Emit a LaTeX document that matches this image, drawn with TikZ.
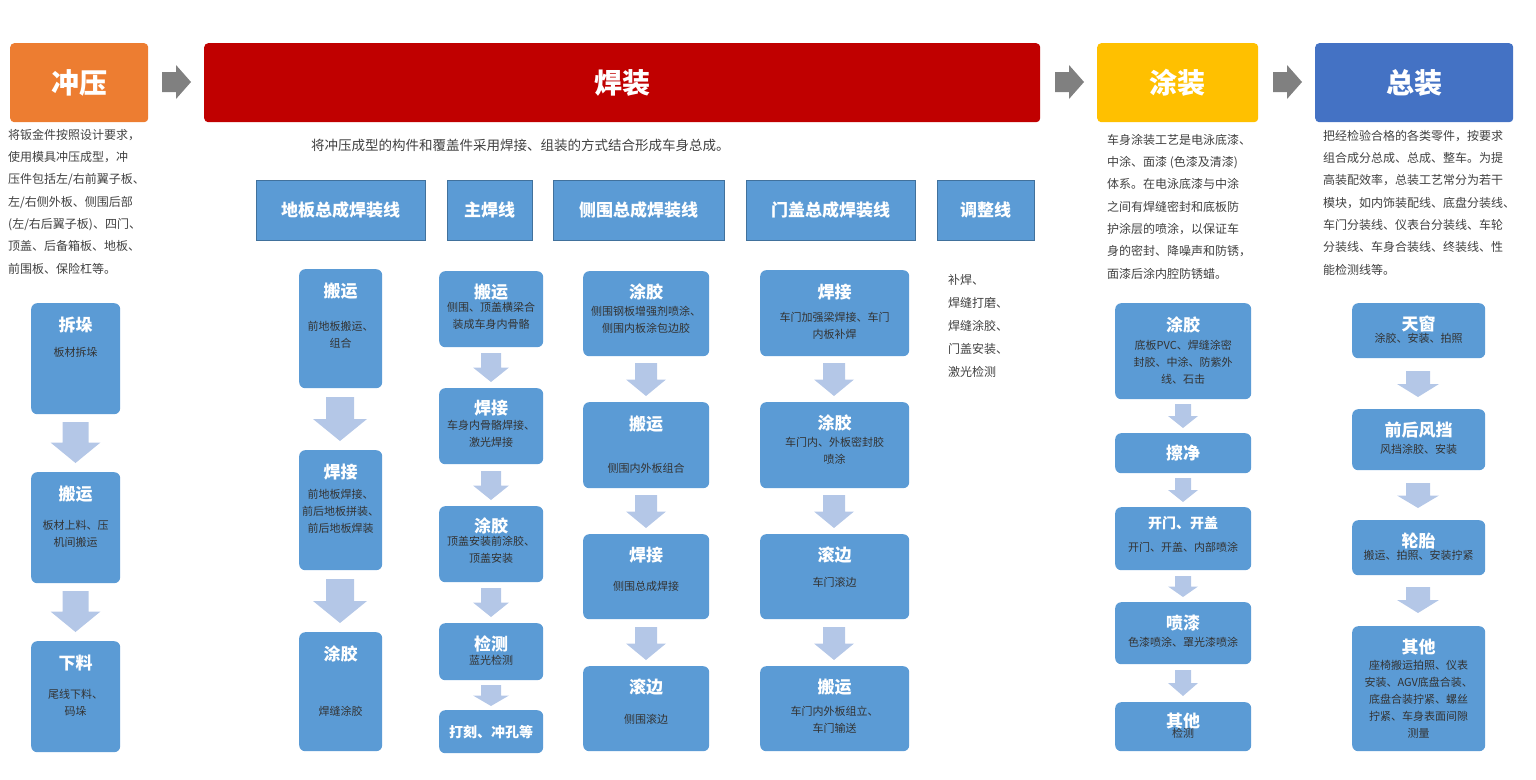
\documentclass[tikz,border=0pt]{standalone}
\usepackage{fontspec}
\setmainfont{Noto Sans CJK SC}
\usetikzlibrary{positioning}
\definecolor{stampor}{HTML}{ED7D31}
\definecolor{weldred}{HTML}{C00000}
\definecolor{paintyl}{HTML}{FFC000}
\definecolor{assybl}{HTML}{4472C4}
\definecolor{boxbl}{HTML}{5B9BD5}
\definecolor{linebd}{HTML}{41719C}
\definecolor{arrowlt}{HTML}{B4C7E7}
\definecolor{txtgray}{HTML}{404040}
\tikzset{
  stagebox/.style={rounded corners=4pt, minimum height=79, anchor=north west, text=white,
    font=\fontsize{28}{30}\selectfont\bfseries},
  linehead/.style={draw=linebd, fill=boxbl, minimum height=60, anchor=north west, text=white,
    font=\fontsize{17}{20}\selectfont\bfseries},
  procbox/.style={fill=boxbl, rounded corners=6pt, anchor=north west, inner sep=0},
  boxtitle/.style={text=white, inner sep=0, font=\fontsize{17}{20}\selectfont\bfseries},
  boxdesc/.style={text=black!80, inner sep=0, align=center, font=\fontsize{11}{17}\selectfont},
  paratext/.style={text=txtgray, inner sep=0, anchor=north west, align=left,
    font=\fontsize{12}{22.3}\selectfont},
}
% box, title and description
\newcommand\flowbox[9]{%
  \node[procbox, minimum width=#4, minimum height=#5] (#1) at (#2,#3) {};
  \node[boxtitle, below=#8 of #1.north] (#1-t) {#6};
  \node[boxdesc, text width=#4, below=#9 of #1-t] (#1-d) {#7};}
% light block arrow pointing down
\newcommand\dnarrow[5]{%
  \fill[arrowlt] ({#1-#4},#2) -- ({#1+#4},#2) -- ({#1+#4},{(#2+#3)/2}) -- ({#1+#5},{(#2+#3)/2})
    -- (#1,#3) -- ({#1-#5},{(#2+#3)/2}) -- ({#1-#4},{(#2+#3)/2}) -- cycle;}
\begin{document}
\begin{tikzpicture}[x=1pt,y=-1pt]
  \useasboundingbox (0,0) rectangle (1536,779);
  % stages
  \node[stagebox, fill=stampor, minimum width=138] (stamp) at (10,43) {冲压};
  \node[stagebox, fill=weldred, minimum width=836] (weld) at (204,43) {焊装};
  \node[stagebox, fill=paintyl, minimum width=161] (paint) at (1097,43) {涂装};
  \node[stagebox, fill=assybl, minimum width=198] (assy) at (1315,43) {总装};
  \foreach \xs in {162,1055,1273}
    \fill[black!50] (\xs,72) -- (\xs+14,72) -- (\xs+14,65) -- (\xs+29,82) -- (\xs+14,99) -- (\xs+14,92) -- (\xs,92) -- cycle;
  % descriptions
  \node[paratext] (stamp-d) at (8,129) {将钣金件按照设计要求，\\使用模具冲压成型，冲\\压件包括左/右前翼子板、\\左/右侧外板、侧围后部\\(左/右后翼子板)、四门、\\顶盖、后备箱板、地板、\\前围板、保险杠等。};
  \node[paratext, font=\fontsize{13.5}{16}\selectfont] (weld-d) at (311,139) {将冲压成型的构件和覆盖件采用焊接、组装的方式结合形成车身总成。};
  \node[paratext] (paint-d) at (1107,134) {车身涂装工艺是电泳底漆、\\中涂、面漆 (色漆及清漆)\\体系。在电泳底漆与中涂\\之间有焊缝密封和底板防\\护涂层的喷涂，以保证车\\身的密封、降噪声和防锈，\\面漆后涂内腔防锈蜡。};
  \node[paratext] (assy-d) at (1323,130) {把经检验合格的各类零件，按要求\\组合成分总成、总成、整车。为提\\高装配效率，总装工艺常分为若干\\模块，如内饰装配线、底盘分装线、\\车门分装线、仪表台分装线、车轮\\分装线、车身合装线、终装线、性\\能检测线等。};
  % welding lines
  \node[linehead, minimum width=169] (floor) at (256,180) {地板总成焊装线};
  \node[linehead, minimum width=85] (main) at (447,180) {主焊线};
  \node[linehead, minimum width=171] (side) at (553,180) {侧围总成焊装线};
  \node[linehead, minimum width=169] (door) at (746,180) {门盖总成焊装线};
  \node[linehead, minimum width=97] (adjust) at (937,180) {调整线};
  \node[paratext, font=\fontsize{12}{23}\selectfont] (adjust-d) at (948,274) {补焊、\\焊缝打磨、\\焊缝涂胶、\\门盖安装、\\激光检测};
  % stamping column
  \flowbox{st1}{31}{303}{89}{111}{拆垛}{板材拆垛}{14pt}{13pt}
  \flowbox{st2}{31}{472}{89}{111}{搬运}{板材上料、压\\机间搬运}{14pt}{17pt}
  \flowbox{st3}{31}{641}{89}{111}{下料}{尾线下料、\\码垛}{14pt}{17pt}
  \dnarrow{75.5}{422}{463}{13}{25}
  \dnarrow{75.5}{591}{632}{13}{25}
  % floor column
  \flowbox{fl1}{299}{269}{83}{119}{搬运}{前地板搬运、\\组合}{14pt}{21pt}
  \flowbox{fl2}{299}{450}{83}{120}{焊接}{前地板焊接、\\前后地板拼装、\\前后地板焊装}{14pt}{8pt}
  \flowbox{fl3}{299}{632}{83}{119}{涂胶}{焊缝涂胶}{14pt}{43pt}
  \dnarrow{340}{397}{441}{14}{27}
  \dnarrow{340}{579}{623}{14}{27}
  % main column
  \flowbox{mn1}{439}{271}{104}{76}{搬运}{侧围、顶盖横梁合\\装成车身内骨骼}{13pt}{1pt}
  \flowbox{mn2}{439}{388}{104}{76}{焊接}{车身内骨骼焊接、\\激光焊接}{12pt}{3pt}
  \flowbox{mn3}{439}{506}{104}{76}{涂胶}{顶盖安装前涂胶、\\顶盖安装}{12pt}{1pt}
  \flowbox{mn4}{439}{623}{104}{57}{检测}{蓝光检测}{13pt}{2pt}
  \node[procbox, minimum width=104, minimum height=43] (mn5) at (439,710) {};
  \node[boxtitle, font=\fontsize{14}{16}\selectfont\bfseries] (mn5-t) at (mn5) {打刻、冲孔等};
  \dnarrow{491}{353}{382}{10}{18}
  \dnarrow{491}{471}{500}{10}{18}
  \dnarrow{491}{588}{617}{10}{18}
  \dnarrow{491}{685}{706}{10}{18}
  % side column
  \flowbox{sd1}{583}{271}{126}{85}{涂胶}{侧围钢板增强剂喷涂、\\侧围内板涂包边胶}{13pt}{5pt}
  \flowbox{sd2}{583}{402}{126}{86}{搬运}{侧围内外板组合}{14pt}{30pt}
  \flowbox{sd3}{583}{534}{126}{85}{焊接}{侧围总成焊接}{13pt}{17pt}
  \flowbox{sd4}{583}{666}{126}{85}{滚边}{侧围滚边}{13pt}{18pt}
  \dnarrow{646}{363}{396}{11}{20}
  \dnarrow{646}{495}{528}{11}{20}
  \dnarrow{646}{627}{660}{11}{20}
  % door column
  \flowbox{dr1}{760}{270}{149}{86}{焊接}{车门加强梁焊接、车门\\内板补焊}{14pt}{11pt}
  \flowbox{dr2}{760}{402}{149}{86}{涂胶}{车门内、外板密封胶\\喷涂}{13pt}{5pt}
  \flowbox{dr3}{760}{534}{149}{85}{滚边}{车门滚边}{13pt}{13pt}
  \flowbox{dr4}{760}{666}{149}{85}{搬运}{车门内外板组立、\\车门输送}{13pt}{10pt}
  \dnarrow{834}{363}{396}{11}{20}
  \dnarrow{834}{495}{528}{11}{20}
  \dnarrow{834}{627}{660}{11}{20}
  % painting column
  \flowbox{pt1}{1115}{303}{136}{96}{涂胶}{底板PVC、焊缝涂密\\封胶、中涂、防紫外\\线、石击}{14pt}{6pt}
  \node[procbox, minimum width=136, minimum height=40] (pt2) at (1115,433) {};
  \node[boxtitle] (pt2-t) at (pt2) {擦净};
  \node[procbox, minimum width=136, minimum height=63] (pt3) at (1115,507) {};
  \node[boxtitle, font=\fontsize{14}{16}\selectfont\bfseries, below=9pt of pt3.north] (pt3-t) {开门、开盖};
  \node[boxdesc, text width=136, below=12pt of pt3-t] (pt3-d) {开门、开盖、内部喷涂};
  \flowbox{pt4}{1115}{602}{136}{62}{喷漆}{色漆喷涂、罩光漆喷涂}{13pt}{5pt}
  \flowbox{pt5}{1115}{702}{136}{49}{其他}{检测}{11pt}{-2pt}
  \dnarrow{1183}{404}{428}{8}{15}
  \dnarrow{1183}{478}{502}{8}{15}
  \dnarrow{1183}{576}{597}{8}{15}
  \dnarrow{1183}{670}{696}{8}{15}
  % assembly column
  \flowbox{as1}{1352}{303}{133}{55}{天窗}{涂胶、安装、拍照}{13pt}{0pt}
  \flowbox{as2}{1352}{409}{133}{61}{前后风挡}{风挡涂胶、安装}{13pt}{5pt}
  \flowbox{as3}{1352}{520}{133}{55}{轮胎}{搬运、拍照、安装拧紧}{13pt}{0pt}
  \flowbox{as4}{1352}{626}{133}{125}{其他}{座椅搬运拍照、仪表\\安装、AGV底盘合装、\\底盘合装拧紧、螺丝\\拧紧、车身表面间隙\\测量}{13pt}{4pt}
  \dnarrow{1418}{371}{397}{12}{21}
  \dnarrow{1418}{483}{508}{12}{21}
  \dnarrow{1418}{587}{613}{12}{21}
\end{tikzpicture}
\end{document}
